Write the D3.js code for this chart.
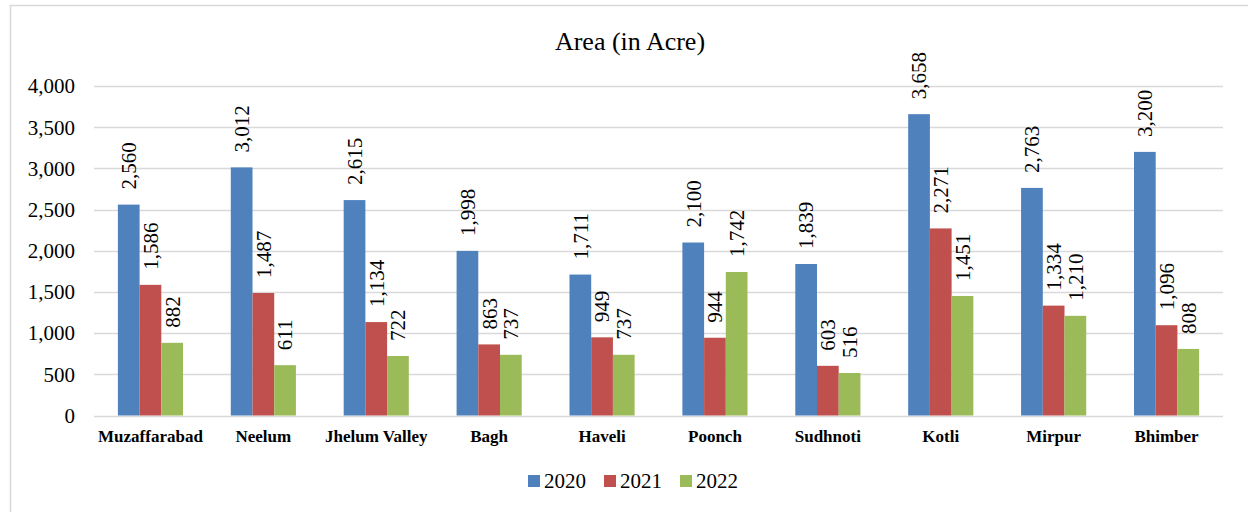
<!DOCTYPE html>
<html>
<head>
<meta charset="utf-8">
<script src="https://cdn.jsdelivr.net/npm/d3@7"></script>
<style>
  body { margin: 0; background: #fff; }
  svg text { font-family: "Liberation Serif", "Times New Roman", Times, "DejaVu Serif", serif; fill: #000; }
</style>
</head>
<body>
<svg id="chart"></svg>
<script>
// data
const districts = ["Muzaffarabad", "Neelum", "Jhelum Valley", "Bagh", "Haveli", "Poonch", "Sudhnoti", "Kotli", "Mirpur", "Bhimber"];
const years = ["2020", "2021", "2022"];
const area2020 = [2560, 3012, 2615, 1998, 1711, 2100, 1839, 3658, 2763, 3200];
const area2021 = [1586, 1487, 1134, 863, 949, 944, 603, 2271, 1334, 1096];
const area2022 = [882, 611, 722, 737, 737, 1742, 516, 1451, 1210, 808];
const yTicks = [0, 500, 1000, 1500, 2000, 2500, 3000, 3500, 4000];

const series = [area2020, area2021, area2022];
const colors = ["#4f81bd", "#c0504d", "#9bbb59"];
const serif = '"Liberation Serif", "Times New Roman", Times, "DejaVu Serif", serif';

const width = 1248, height = 512;
const svg = d3.select("#chart")
  .attr("width", width).attr("height", height)
  .attr("font-family", serif);

// chart frame
svg.append("path")
  .attr("d", `M10.5,${height} V5.5 H${width}`)
  .attr("fill", "none")
  .attr("stroke", "#d9d9d9")
  .attr("stroke-width", 1.5);

const x0 = d3.scaleBand().domain(districts).range([94, 1223]);
const barW = x0.bandwidth() / 5.2;
const x1 = d3.scaleBand().domain(years)
  .range([(x0.bandwidth() - 3 * barW) / 2, (x0.bandwidth() + 3 * barW) / 2]);
const y = d3.scaleLinear().domain([0, 4000]).range([415.5, 86]);

// gridlines
svg.append("g").selectAll("line")
  .data(yTicks)
  .join("line")
  .attr("x1", 94).attr("x2", 1223)
  .attr("y1", d => Math.round(y(d)) + 0.5)
  .attr("y2", d => Math.round(y(d)) + 0.5)
  .attr("stroke", "#d9d9d9")
  .attr("stroke-width", 1.5);

// y tick labels
svg.append("g").selectAll("text")
  .data(yTicks)
  .join("text")
  .attr("x", 75)
  .attr("y", d => y(d))
  .attr("dy", "0.35em")
  .attr("text-anchor", "end")
  .style("font-size", "21px")
  .text(d => d3.format(",")(d));

// title
svg.append("text")
  .attr("x", 630).attr("y", 50)
  .attr("text-anchor", "middle")
  .style("font-size", "26px")
  .text("Area (in Acre)");

// bars
const groups = svg.append("g").selectAll("g")
  .data(districts)
  .join("g")
  .attr("transform", d => `translate(${x0(d)},0)`);

groups.selectAll("rect")
  .data((d, i) => years.map((yr, k) => ({ yr, k, v: series[k][i] })))
  .join("rect")
  .attr("x", d => x1(d.yr))
  .attr("width", x1.bandwidth())
  .attr("y", d => y(d.v))
  .attr("height", d => y(0) - y(d.v))
  .attr("fill", d => colors[d.k]);

// rotated value labels
groups.selectAll("text")
  .data((d, i) => years.map((yr, k) => ({ yr, k, v: series[k][i] })))
  .join("text")
  .attr("transform", d => `translate(${x1(d.yr) + x1.bandwidth() / 2},${y(d.v) - 15}) rotate(-90)`)
  .attr("dy", "0.35em")
  .style("font-size", "21px")
  .text(d => d3.format(",")(d.v));

// category labels
svg.append("g").selectAll("text")
  .data(districts)
  .join("text")
  .attr("x", d => x0(d) + x0.bandwidth() / 2)
  .attr("y", 442)
  .attr("text-anchor", "middle")
  .style("font-size", "17px")
  .style("font-weight", "bold")
  .text(d => d);

// legend
const legend = svg.append("g").selectAll("g")
  .data(years)
  .join("g")
  .attr("transform", (d, i) => `translate(${528 + i * 76},475)`);
legend.append("rect")
  .attr("width", 12).attr("height", 12)
  .attr("fill", (d, i) => colors[i]);
legend.append("text")
  .attr("x", 16).attr("y", 13)
  .style("font-size", "21px")
  .text(d => d);
</script>
</body>
</html>
